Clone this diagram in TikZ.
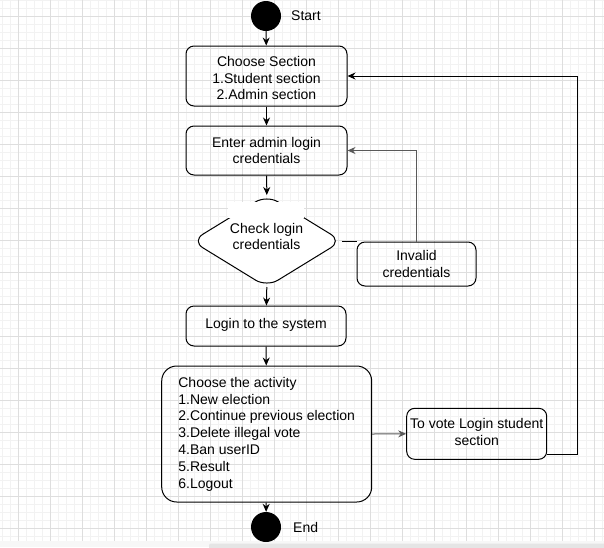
\documentclass[tikz,border=0pt]{standalone}
\usepackage{fontspec}
\setmainfont{Liberation Sans}
\usetikzlibrary{arrows.meta,shapes.geometric,calc}
\begin{document}
\begin{tikzpicture}[x=1pt,y=-1pt,
  font=\fontsize{14}{16.8}\selectfont,
  box/.style={draw,line width=1pt,rounded corners=8pt,align=center,inner sep=0pt},
  dot/.style={circle,fill=black,minimum size=30pt,inner sep=0pt},
  arr/.style={-{Stealth[length=8pt,width=7pt]},line width=1pt},
  garr/.style={arr,draw=black!65},
  ln/.style={line width=1pt},
  lbl/.style={anchor=west,inner sep=0pt}]
\useasboundingbox (0,0) rectangle (604,547);
% grid background
\fill[white] (0,0) rectangle (604,547);
\foreach \x in {2,10,...,602} \draw[black!5,line width=0.6pt] (\x,0) -- (\x,541);
\foreach \y in {0,8,...,540} \draw[black!5,line width=0.6pt] (0,\y) -- (604,\y);
\foreach \x in {18,50,...,602} \draw[black!13,line width=0.8pt] (\x,0) -- (\x,541);
\foreach \y in {16,48,...,540} \draw[black!13,line width=0.8pt] (0,\y) -- (604,\y);
\fill[black!3] (0,541) rectangle (604,547);
\fill[black!10,rounded corners=2pt] (209,543.5) rectangle (610,550);
% nodes
\node[dot] (start) at (266,16) {};
\node[lbl] (startlbl) at (291,16) {Start};
\node[box,minimum width=161pt,minimum height=60pt] (choose) at (266.5,76) {};
\node[align=center,inner sep=0pt] (choosetxt) at (266.5,78) {Choose Section\\1.Student section\\2.Admin section};
\node[box,minimum width=161pt,minimum height=49pt] (enter) at (266.5,150.5) {Enter admin login\\credentials};
\node[minimum width=150pt,minimum height=92pt,inner sep=0pt,outer sep=0pt] (check) at (266.8,241) {};
\draw[line width=1pt,rounded corners=13pt,fill=white] (check.north) -- (check.east) -- (check.south) -- (check.west) -- cycle;
\node[fill=white,minimum width=76pt,minimum height=16pt,inner sep=0pt] (checkbg) at (266,210) {};
\node[align=center,inner sep=0pt] (checktxt) at (266.5,236.5) {Check login\\credentials};
\node[box,minimum width=119pt,minimum height=44pt] (invalid) at (416.5,264) {Invalid\\credentials};
\node[box,minimum width=160pt,minimum height=40pt,text depth=5pt] (login) at (266,326) {Login to the system};
\node[box,rounded corners=15pt,minimum width=210pt,minimum height=136pt,align=left] (activity) at (266.7,434) {Choose the activity\\1.New election\\2.Continue previous election\\3.Delete illegal vote\\4.Ban userID\\5.Result\\6.Logout};
\node[dot] (end) at (266,527) {};
\node[lbl] (endlbl) at (293,527) {End};
\node[box,minimum width=140pt,minimum height=51pt,text depth=4pt] (vote) at (476.7,433.8) {To vote Login student\\section};
% connectors
\draw[arr] (start) -- (choose);
\draw[arr] (choose) -- (enter);
\draw[arr] (enter) -- (check.north);
\draw[arr] (check.south) -- (login);
\draw[arr] (login) -- (activity);
\draw[arr] (activity) -- (end);
\draw[ln] (check.east) -- (check.east -| invalid.west);
\draw[garr] (invalid.north) |- (enter.east);
\draw[garr] (activity.east) -- (vote.west);
\coordinate (loopstart) at ([yshift=5pt]vote.south east);
\draw[arr] (loopstart) -- ++(30,0) |- (choose.east);
\end{tikzpicture}
\end{document}
